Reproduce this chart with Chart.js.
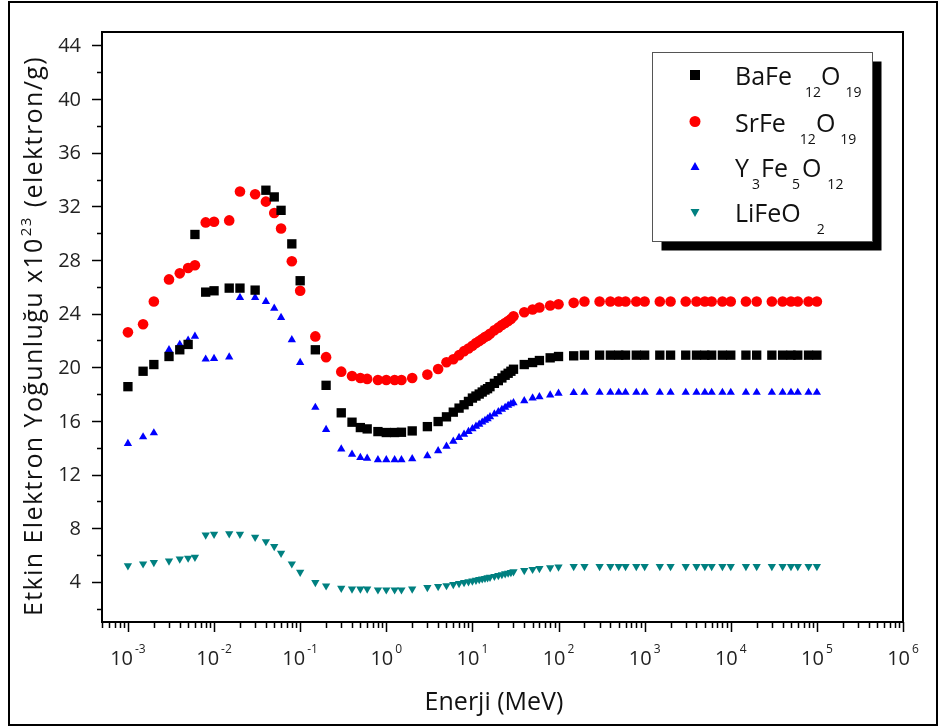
<!DOCTYPE html>
<html>
<head>
<meta charset="utf-8">
<script src="https://cdn.jsdelivr.net/npm/chart.js@4.4.0/dist/chart.umd.min.js"></script>
<style>
  html, body { margin: 0; padding: 0; background: #fff; overflow: hidden; }
  #wrap { position: relative; width: 942px; height: 728px; }
</style>
</head>
<body>
<div id="wrap"><canvas id="chart"></canvas></div>
<script>
// photon energies (MeV)
var energy = [
  0.001, 0.0015, 0.002, 0.003, 0.004, 0.005, 0.006, 0.008,
  0.01, 0.015, 0.02, 0.03, 0.04, 0.05, 0.06, 0.08,
  0.1, 0.15, 0.2, 0.3, 0.4, 0.5, 0.6, 0.8,
  1, 1.25, 1.5, 2, 3, 4, 5,
  6, 7, 8, 9, 10, 11, 12, 13, 14, 15, 16,
  18, 20, 22, 24, 26, 28, 30,
  40, 50, 60, 80,
  100, 150, 200, 300, 400, 500, 600, 800,
  1000, 1500, 2000, 3000, 4000, 5000, 6000, 8000,
  10000, 15000, 20000, 30000, 40000, 50000, 60000, 80000,
  100000
];

// effective electron density x10^23 (electron/g)
var bafe = [
  18.55, 19.7, 20.2, 20.8, 21.3, 21.7, 29.9, 25.6,
  25.7, 25.9, 25.9, 25.75, 33.2, 32.7, 31.7, 29.2,
  26.45, 21.3, 18.65, 16.6, 15.9, 15.5, 15.4, 15.2,
  15.13, 15.13, 15.15, 15.25, 15.57, 15.95, 16.3,
  16.65, 16.95, 17.2, 17.45, 17.7, 17.85, 18.0, 18.15, 18.3, 18.4, 18.55,
  18.8, 19.0, 19.2, 19.4, 19.55, 19.7, 19.85,
  20.2, 20.35, 20.5, 20.7,
  20.8, 20.85, 20.9, 20.9, 20.9, 20.9, 20.9, 20.9,
  20.9, 20.9, 20.9, 20.9, 20.9, 20.9, 20.9, 20.9,
  20.9, 20.9, 20.9, 20.9, 20.9, 20.9, 20.9, 20.9,
  20.9
];
var srfe = [
  22.6, 23.2, 24.9, 26.55, 27.0, 27.4, 27.6, 30.8,
  30.85, 30.95, 33.1, 32.9, 32.35, 31.5, 30.35, 27.9,
  25.7, 22.3, 20.75, 19.67, 19.35, 19.2, 19.13, 19.05,
  19.05, 19.05, 19.05, 19.2, 19.45, 19.87, 20.37,
  20.6, 20.9, 21.2, 21.4, 21.6, 21.8, 21.95, 22.1, 22.25, 22.35, 22.5,
  22.75, 22.95, 23.15, 23.3, 23.45, 23.6, 23.8,
  24.1, 24.3, 24.45, 24.6,
  24.7, 24.8, 24.9, 24.9, 24.9, 24.9, 24.9, 24.9,
  24.9, 24.9, 24.9, 24.9, 24.9, 24.9, 24.9, 24.9,
  24.9, 24.9, 24.9, 24.9, 24.9, 24.9, 24.9, 24.9,
  24.9
];
var yig = [
  14.3, 14.8, 15.1, 21.3, 21.7, 22.0, 22.3, 20.6,
  20.65, 20.75, 25.2, 25.2, 24.9, 24.4, 23.7, 22.05,
  20.35, 17.0, 15.35, 13.9, 13.5, 13.26, 13.2, 13.1,
  13.1, 13.1, 13.1, 13.17, 13.4, 13.76, 14.1,
  14.47, 14.76, 15.0, 15.2, 15.4, 15.6, 15.74, 15.9, 16.03, 16.15, 16.3,
  16.5, 16.67, 16.85, 17.0, 17.15, 17.26, 17.35,
  17.5, 17.7, 17.8, 17.93,
  18.05, 18.1, 18.12, 18.12, 18.12, 18.12, 18.12, 18.12,
  18.12, 18.12, 18.12, 18.12, 18.12, 18.12, 18.12, 18.12,
  18.12, 18.12, 18.12, 18.12, 18.12, 18.12, 18.12, 18.12,
  18.12
];
var lifeo = [
  5.2, 5.34, 5.44, 5.56, 5.7, 5.77, 5.84, 7.5,
  7.55, 7.58, 7.55, 7.33, 7.0, 6.63, 6.14, 5.34,
  4.72, 3.95, 3.7, 3.53, 3.46, 3.46, 3.46, 3.4,
  3.4, 3.4, 3.4, 3.46, 3.58, 3.65, 3.72,
  3.8, 3.88, 3.95, 4.01, 4.07, 4.12, 4.17, 4.22, 4.26, 4.3, 4.34,
  4.41, 4.48, 4.54, 4.6, 4.65, 4.7, 4.75,
  4.85, 4.93, 5.0, 5.05,
  5.1, 5.15, 5.15, 5.15, 5.15, 5.15, 5.15, 5.15,
  5.15, 5.15, 5.15, 5.15, 5.15, 5.15, 5.15, 5.15,
  5.15, 5.15, 5.15, 5.15, 5.15, 5.15, 5.15, 5.15,
  5.15
];

var xDecades = [-3, -2, -1, 0, 1, 2, 3, 4, 5, 6];
var yLabels = [4, 8, 12, 16, 20, 24, 28, 32, 36, 40, 44];

// legend rows: pieces of [text, isSubscript, gapBefore]
var legendRows = [
  [['BaFe', 0, 0], ['12', 1, 13], ['O', 0, 0], ['19', 1, 5]],
  [['SrFe', 0, 0], ['12', 1, 14], ['O', 0, 0], ['19', 1, 5]],
  [['Y', 0, 0], ['3', 1, 3], ['Fe', 0, 1], ['5', 1, 4], ['O', 0, 2], ['12', 1, 6]],
  [['LiFeO', 0, 0], ['2', 1, 16]]
];

function pts(vals) {
  return energy.map(function (e, i) { return { x: e, y: vals[i] }; });
}

var FONT = '"Open Sans", "Noto Sans", sans-serif';

var decor = {
  id: 'decor',
  afterDraw: function (chart) {
    var ctx = chart.ctx, a = chart.chartArea;
    var xs = chart.scales.x, ys = chart.scales.y;
    ctx.save();

    // outer frame
    ctx.strokeStyle = '#000';
    ctx.lineWidth = 2;
    ctx.strokeRect(9, 2, 928, 723);

    // plot box
    ctx.strokeRect(a.left, a.top, a.right - a.left, a.bottom - a.top);

    // x ticks (log, outward)
    ctx.lineWidth = 1.5;
    ctx.beginPath();
    for (var p = -4; p <= 6; p++) {
      for (var m = 1; m < 10; m++) {
        var v = m * Math.pow(10, p);
        if (v < xs.min * 0.999 || v > xs.max * 1.001) continue;
        var px = Math.round(xs.getPixelForValue(v)) + 0.5;
        ctx.moveTo(px, a.bottom);
        ctx.lineTo(px, a.bottom + (m === 1 ? 10 : 6));
      }
    }
    // y ticks (outward)
    for (var t = 2; t <= 44; t += 2) {
      var py = Math.round(ys.getPixelForValue(t)) + 0.5;
      ctx.moveTo(a.left, py);
      ctx.lineTo(a.left - (t % 4 === 0 ? 10 : 5), py);
    }
    ctx.stroke();

    // y tick labels
    ctx.fillStyle = '#222';
    ctx.font = '20px ' + FONT;
    ctx.textAlign = 'right';
    ctx.textBaseline = 'middle';
    yLabels.forEach(function (val) {
      ctx.fillText(String(val), 81, ys.getPixelForValue(val) + 1);
    });

    // x tick labels 10^n
    ctx.textBaseline = 'alphabetic';
    ctx.textAlign = 'left';
    xDecades.forEach(function (d) {
      var cx = xs.getPixelForValue(Math.pow(10, d));
      ctx.font = '20px ' + FONT;
      var w1 = ctx.measureText('10').width;
      ctx.font = '12px ' + FONT;
      var sup = String(d);
      var w2 = ctx.measureText(sup).width;
      var x0 = cx - (w1 + 2 + w2) / 2;
      ctx.font = '20px ' + FONT;
      ctx.fillText('10', x0, 665);
      ctx.font = '12px ' + FONT;
      ctx.fillText(sup, x0 + w1 + 2, 653);
    });

    // x title
    ctx.fillStyle = '#111';
    ctx.font = '25px ' + FONT;
    ctx.textAlign = 'center';
    ctx.fillText('Enerji (MeV)', 494, 710);

    // y title (rotated, with superscript), stretched to the reference length
    var p1 = 'Etkin Elektron Yoğunluğu x10', p2 = '23', p3 = ' (elektron/g)';
    var fs = 25, target = 560;
    var nChars = (p1 + p3).length + 2;
    ctx.font = fs + 'px ' + FONT;
    var wa = ctx.measureText(p1).width, wc = ctx.measureText(p3).width;
    ctx.font = '15px ' + FONT;
    var wb = ctx.measureText(p2).width;
    var total = wa + wb + 2 + wc;
    var ls = Math.max(0, (target - total) / nChars);
    ctx.save();
    ctx.translate(42, 336);
    ctx.rotate(-Math.PI / 2);
    ctx.textAlign = 'left';
    if ('letterSpacing' in ctx) ctx.letterSpacing = ls.toFixed(2) + 'px';
    else ls = 0;
    ctx.font = fs + 'px ' + FONT;
    wa = ctx.measureText(p1).width; wc = ctx.measureText(p3).width;
    ctx.font = '15px ' + FONT;
    wb = ctx.measureText(p2).width;
    total = wa + wb + 2 + wc;
    var sx = -total / 2;
    ctx.font = fs + 'px ' + FONT;
    ctx.fillText(p1, sx, 0);
    ctx.font = '15px ' + FONT;
    ctx.fillText(p2, sx + wa + 1, -11);
    ctx.font = fs + 'px ' + FONT;
    ctx.fillText(p3, sx + wa + wb + 2, 0);
    if ('letterSpacing' in ctx) ctx.letterSpacing = '0px';
    ctx.restore();

    // legend with shadow
    var lx = 652.5, ly = 52.5, lw = 220, lh = 189;
    ctx.fillStyle = '#000';
    ctx.fillRect(lx + 9, ly + 9, lw, lh);
    ctx.fillStyle = '#fff';
    ctx.fillRect(lx, ly, lw, lh);
    ctx.strokeStyle = '#555';
    ctx.lineWidth = 1;
    ctx.strokeRect(lx, ly, lw, lh);

    var rowY = [85, 131.5, 177, 222];
    var mk = 695;
    ctx.fillStyle = '#000';
    ctx.fillRect(mk - 5, rowY[0] - 15, 10, 10);
    ctx.fillStyle = '#ff0000';
    ctx.beginPath(); ctx.arc(mk, rowY[1] - 10, 5.5, 0, Math.PI * 2); ctx.fill();
    ctx.fillStyle = '#0000ff';
    ctx.beginPath();
    ctx.moveTo(mk, rowY[2] - 15); ctx.lineTo(mk + 4.5, rowY[2] - 7); ctx.lineTo(mk - 4.5, rowY[2] - 7);
    ctx.closePath(); ctx.fill();
    ctx.fillStyle = '#008080';
    ctx.beginPath();
    ctx.moveTo(mk - 4.5, rowY[3] - 13); ctx.lineTo(mk + 4.5, rowY[3] - 13); ctx.lineTo(mk, rowY[3] - 5);
    ctx.closePath(); ctx.fill();

    ctx.fillStyle = '#111';
    ctx.textAlign = 'left';
    legendRows.forEach(function (row, i) {
      var x = 735;
      row.forEach(function (pc) {
        x += pc[2];
        ctx.font = (pc[1] ? '14px ' : '25px ') + FONT;
        ctx.fillText(pc[0], x, rowY[i] + (pc[1] ? 12 : 0));
        x += ctx.measureText(pc[0]).width;
      });
    });

    ctx.restore();
  }
};

var ctx = document.getElementById('chart').getContext('2d');
new Chart(ctx, {
  type: 'scatter',
  data: {
    datasets: [
      { label: 'BaFe12O19', data: pts(bafe), pointStyle: 'rect', pointRadius: 6.6,
        backgroundColor: '#000000', borderColor: '#000000', borderWidth: 0 },
      { label: 'SrFe12O19', data: pts(srfe), pointStyle: 'circle', pointRadius: 5.3,
        backgroundColor: '#ff0000', borderColor: '#ff0000', borderWidth: 0 },
      { label: 'Y3Fe5O12', data: pts(yig), pointStyle: 'triangle', pointRadius: 4.8,
        backgroundColor: '#0000ff', borderColor: '#0000ff', borderWidth: 0 },
      { label: 'LiFeO2', data: pts(lifeo), pointStyle: 'triangle', pointRotation: 180, pointRadius: 4.8,
        backgroundColor: '#008080', borderColor: '#008080', borderWidth: 0 }
    ]
  },
  options: {
    responsive: true,
    maintainAspectRatio: false,
    animation: false,
    events: [],
    layout: { autoPadding: false, padding: { left: 0, top: 32, right: 39, bottom: 0 } },
    plugins: { legend: { display: false }, tooltip: { enabled: false } },
    scales: {
      x: {
        type: 'logarithmic',
        min: 5e-4,
        max: 1e6,
        grid: { display: false, drawTicks: false },
        border: { display: true, color: '#000', width: 2 },
        ticks: { display: false },
        afterFit: function (s) { s.height = 106; s.paddingLeft = 0; s.paddingRight = 0; }
      },
      y: {
        min: 1,
        max: 45,
        grid: { display: false, drawTicks: false },
        border: { display: true, color: '#000', width: 2 },
        ticks: { display: false, stepSize: 2 },
        afterFit: function (s) { s.width = 102; s.paddingTop = 0; s.paddingBottom = 0; }
      }
    }
  },
  plugins: [decor]
});
</script>
</body>
</html>
